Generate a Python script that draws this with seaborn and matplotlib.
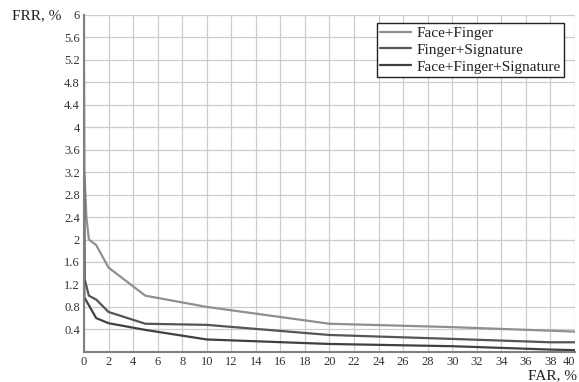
import numpy as np
import pandas as pd
import matplotlib
matplotlib.use("Agg")
import matplotlib.pyplot as plt
import seaborn as sns

# FAR/FRR curves
far_ff = [0, 0.05, 0.2, 0.4, 1, 2, 5, 10, 20, 30, 40]
frr_ff = [3.2, 3.1, 2.4, 2.0, 1.9, 1.5, 1.0, 0.8, 0.5, 0.44, 0.36]

far_fs = [0, 0.05, 0.4, 1, 2, 5, 10, 20, 30, 38, 40]
frr_fs = [5.0, 1.3, 1.0, 0.93, 0.71, 0.5, 0.48, 0.3, 0.23, 0.17, 0.17]

far_ffs = [0, 0.03, 1, 2, 5, 10, 20, 30, 38, 40]
frr_ffs = [2.5, 0.97, 0.6, 0.51, 0.39, 0.22, 0.14, 0.1, 0.04, 0.03]

names = ["Face+Finger", "Finger+Signature", "Face+Finger+Signature"]
colors = ["#8f8f8f", "#555555", "#404040"]

df = pd.concat([
    pd.DataFrame({"FAR": far_ff, "FRR": frr_ff, "set": names[0]}),
    pd.DataFrame({"FAR": far_fs, "FRR": frr_fs, "set": names[1]}),
    pd.DataFrame({"FAR": far_ffs, "FRR": frr_ffs, "set": names[2]}),
], ignore_index=True)

sns.set_style("white")
plt.rcParams["font.family"] = ["Liberation Serif", "DejaVu Serif"]

fig = plt.figure(figsize=(5.79, 3.82), dpi=100)
ax = fig.add_axes([0.145, 0.079, 0.848, 0.882])

sns.lineplot(data=df, x="FAR", y="FRR", hue="set", palette=dict(zip(names, colors)),
             sort=False, estimator=None, linewidth=1.6, ax=ax)

ax.set_xlim(0, 40)
ax.set_ylim(0, 6)
ax.set_xticks(np.arange(0, 41, 2))
ax.set_xticklabels([str(v) for v in range(0, 41, 2)])
ax.get_xticklabels()[-1].set_horizontalalignment("right")
yt = np.round(np.arange(0, 6.01, 0.4), 1)
ax.set_yticks(yt)
ax.set_yticklabels([""] + ["{:g}".format(v) for v in yt[1:]])
ax.grid(True, color="#cccccc", linewidth=0.9)
ax.tick_params(axis="both", labelsize=9, colors="#333333", length=4, width=1,
               direction="inout", pad=1)
for s in ["top", "right"]:
    ax.spines[s].set_visible(False)
for s in ["left", "bottom"]:
    ax.spines[s].set_color("#808080")
    ax.spines[s].set_linewidth(1.5)
ax.set_xlabel("")
ax.set_ylabel("")

fig.text(0.02, 0.95, "FRR, %", fontsize=11, color="#222222")
fig.text(0.912, 0.008, "FAR, %", fontsize=11, color="#222222")

leg = ax.legend(loc="upper right", bbox_to_anchor=(0.978, 0.975), fontsize=11,
                frameon=True, fancybox=False, edgecolor="#222222", framealpha=1,
                borderpad=0.2, handlelength=2.0, handletextpad=0.4, labelspacing=0.2,
                borderaxespad=0)
leg.get_frame().set_linewidth(1)
for t in leg.get_texts():
    t.set_color("#222222")

fig.savefig("out.png", dpi=100)
